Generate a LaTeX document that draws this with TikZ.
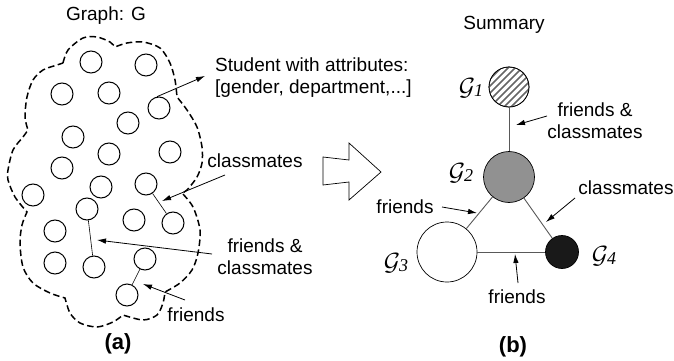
\documentclass[tikz,border=0pt]{standalone}
\usepackage{fontspec}
\setmainfont{Liberation Sans}
\newfontfamily\serifit{Liberation Serif}
\usetikzlibrary{arrows.meta}
\begin{document}
\begin{tikzpicture}[x=1pt,y=-1pt,
  stud/.style={circle,draw,line width=1pt,minimum size=22pt,inner sep=0pt},
  lab/.style={inner sep=0pt,font=\fontsize{19}{22}\selectfont,align=center},
  captxt/.style={inner sep=0pt,font=\fontsize{22}{24}\selectfont\bfseries},
  glab/.style={inner sep=0pt,font=\fontsize{25}{25}\selectfont},
  pointer/.style={line width=0.8pt,-{Latex[length=9pt,width=5.5pt]}},
  link/.style={line width=0.6pt},
  sedge/.style={line width=0.9pt,draw=black!65},
  snode/.style={circle,draw,line width=0.7pt,inner sep=0pt},
  cloud/.style={dashed,dash pattern=on 6.5pt off 3.5pt,line width=1.5pt}]
\useasboundingbox (0,0) rectangle (674,361);
% cloud
\draw[cloud] plot[smooth] coordinates {(63,63) (68,50) (83,38) (97,37) (110,42) (115,47)}
 -- plot[smooth] coordinates {(115,47) (127,43) (143,42) (160,48) (170,63) (175,80) (177,97)}
 -- plot[smooth] coordinates {(177,97) (187,110) (197,127) (202,147) (202,163) (197,177) (187,190) (182,193)}
 -- plot[smooth] coordinates {(182,193) (193,207) (200,230) (198,253) (192,270) (180,283) (165,292)}
 -- plot[smooth] coordinates {(165,292) (163,303) (157,315) (143,320) (123,315)}
 -- plot[smooth] coordinates {(123,315) (113,322) (97,327) (80,323) (70,313) (65,298)}
 -- plot[smooth] coordinates {(65,298) (50,293) (33,283) (23,267) (20,243) (22,225) (27,212)}
 -- plot[smooth] coordinates {(27,212) (15,197) (8,180) (8,170) (13,150) (23,137) (28,130)}
 -- plot[smooth] coordinates {(28,130) (25,117) (27,97) (33,80) (43,70) (57,65) (63,63)};
% students
\foreach \n/\x/\y in {1/91/62,2/146/65,3/62/94,4/109/93,5/159/108,6/128/123,7/73/137,
  8/109/154,9/170/152,10/62/168,11/101/187,12/146/184,13/33/195,14/87/209,15/134/220,
  16/173/223,17/55/231,18/55/263,19/94/267,20/145/259,21/127/295}
  \node[stud] (c\n) at (\x,\y) {};
\draw[link] (c12) -- (c16);
\draw[link] (c14) -- (c19);
\draw[link] (c20) -- (c21);
% left labels
\node[lab] (title) at (106,16) {Graph: G};
\node[lab,anchor=west,align=left] (stxt) at (215,78) {Student with attributes:\\{}[gender, department,...]};
\node[lab] (lcm) at (255,161) {classmates};
\node[lab] (lfc) at (265,257) {friends \&\\classmates};
\node[lab] (lfr) at (196,315) {friends};
\node[captxt] (capa) at (118,344) {(a)};
\coordinate (s1) at (205,76);
\coordinate (a1s) at (225,175); \coordinate (a1e) at (162,201);
\coordinate (a2s) at (212,254); \coordinate (a2e) at (97,240);
\coordinate (a3s) at (185,300); \coordinate (a3e) at (143,284);
\draw[pointer] (c5.100) -- (s1);
\draw[pointer] (a1s) -- (a1e);
\draw[pointer] (a2s) -- (a2e);
\draw[pointer] (a3s) -- (a3e);
% big hollow arrow
\draw[line width=0.7pt] (323,157) -- (349,160) -- (349,143) -- (381,172) -- (349,200) -- (349,182) -- (323,185) -- cycle;
% summary
\node[lab] (sum) at (504,25) {Summary};
\node[snode,minimum size=40pt] (g1) at (509,87) {};
\node[snode,minimum size=51pt,fill=black!43] (g2) at (509,177) {};
\node[snode,minimum size=60pt,fill=white] (g3) at (447,252) {};
\node[snode,minimum size=33pt,fill=black!90] (g4) at (562,252) {};
\begin{scope}
  \clip (g1.center) circle (20);
  \foreach \i in {-48,-41,...,48}
    \draw[line width=1.5pt,black!60] (g1.center) ++(\i,0) ++(-30,30) -- ++(60,-60);
\end{scope}
\node[snode,minimum size=40pt] at (g1.center) {};
\draw[sedge] (g1) -- (g2);
\draw[sedge] (g2) -- (g3);
\draw[sedge] (g2) -- (g4);
\draw[sedge] (g3) -- (g4);
\node[glab] (l1) at (471,88) {$\mathcal{G}$\kern-1pt\raisebox{-1pt}{\fontsize{18}{18}\serifit\itshape 1}};
\node[glab] (l2) at (461,173) {$\mathcal{G}$\kern-1pt\raisebox{-1pt}{\fontsize{18}{18}\serifit\itshape 2}};
\node[glab] (l3) at (396,263) {$\mathcal{G}$\kern-1pt\raisebox{-1pt}{\fontsize{18}{18}\serifit\itshape 3}};
\node[glab] (l4) at (604,256) {$\mathcal{G}$\kern-1pt\raisebox{-1pt}{\fontsize{18}{18}\serifit\itshape 4}};
\node[lab] (rfc) at (595,121) {friends \&\\classmates};
\node[lab] (rfl) at (405,207) {friends};
\node[lab] (rcm) at (626,188) {classmates};
\node[lab] (rfb) at (517,297) {friends};
\node[captxt] (capb) at (513,347) {(b)};
\coordinate (b1s) at (547,116); \coordinate (b1e) at (516,125);
\coordinate (b2s) at (442,207); \coordinate (b2e) at (477,213);
\coordinate (b3s) at (575,198); \coordinate (b3e) at (546,222);
\coordinate (b4s) at (518,283); \coordinate (b4e) at (515,254);
\draw[pointer] (b1s) -- (b1e);
\draw[pointer] (b2s) -- (b2e);
\draw[pointer] (b3s) -- (b3e);
\draw[pointer] (b4s) -- (b4e);
\end{tikzpicture}
\end{document}
